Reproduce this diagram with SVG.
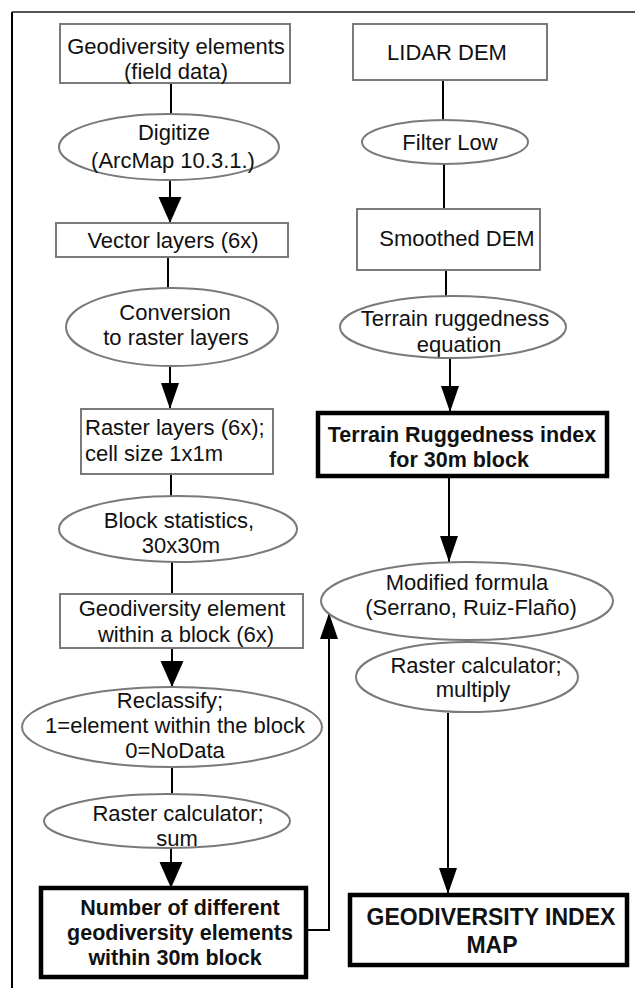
<svg xmlns="http://www.w3.org/2000/svg" width="635" height="988" viewBox="0 0 635 988">
<style>
.n{fill:#fff;stroke:#7a7a7a;stroke-width:2}
.b{fill:#fff;stroke:#000;stroke-width:4.5}
.t{font-family:"Liberation Sans",Arial,sans-serif;font-size:22px;fill:#111;text-anchor:middle}
.l{text-anchor:start}
.bt{font-family:"Liberation Sans",Arial,sans-serif;font-size:21.5px;font-weight:bold;fill:#111;text-anchor:middle}
.c{fill:none;stroke:#000;stroke-width:2}
.a{marker-end:url(#ah)}
.a2{marker-end:url(#ahb)}
</style>
<defs>
<marker id="ah" markerUnits="userSpaceOnUse" markerWidth="27" markerHeight="18" refX="26" refY="9" orient="auto"><path d="M0,0 L26,9 L0,18 Z" fill="#000"/></marker>
<marker id="ahb" markerUnits="userSpaceOnUse" markerWidth="28" markerHeight="24" refX="26" refY="11.5" orient="auto"><path d="M0,0 L26,11.5 L0,23 Z" fill="#000"/></marker>
</defs>
<rect width="635" height="988" fill="#fff"/>
<g id="frame">
<line x1="12" y1="12" x2="635" y2="12" stroke="#555" stroke-width="2"/>
<line x1="12" y1="12" x2="12" y2="988" stroke="#000" stroke-width="2"/>
</g>
<g id="connectors">
<line class="c" x1="171" y1="83" x2="171" y2="113"/>
<line class="c a2" x1="170" y1="180" x2="170" y2="223"/>
<line class="c" x1="168" y1="257" x2="168" y2="288"/>
<line class="c a" x1="170" y1="367" x2="170" y2="409"/>
<line class="c" x1="171" y1="474" x2="171" y2="497"/>
<line class="c" x1="172" y1="562" x2="172" y2="594"/>
<line class="c a2" x1="172" y1="648" x2="172" y2="687"/>
<line class="c" x1="172" y1="768" x2="172" y2="795"/>
<line class="c a2" x1="171" y1="848" x2="171" y2="888"/>
<line class="c" x1="443" y1="80" x2="443" y2="120"/>
<line class="c" x1="444" y1="163" x2="444" y2="209"/>
<line class="c" x1="446" y1="270" x2="446" y2="297"/>
<line class="c a" x1="450" y1="358" x2="450" y2="412"/>
<line class="c a" x1="449" y1="476" x2="449" y2="562"/>
<line class="c a" x1="448" y1="713" x2="448" y2="894"/>
<polyline class="c a" points="306,930 329,930 329,613"/>
</g>
<g id="geo-elements">
<rect class="n" x="60" y="24" width="230" height="59"/>
<text class="t" x="176" y="54">Geodiversity elements</text>
<text class="t" x="176" y="79">(field data)</text>
</g>
<g id="digitize">
<ellipse class="n" cx="169" cy="147" rx="110" ry="33"/>
<text class="t" x="174" y="140">Digitize</text>
<text class="t" x="173" y="168">(ArcMap 10.3.1.)</text>
</g>
<g id="vector-layers">
<rect class="n" x="56" y="223" width="232" height="34"/>
<text class="t" x="173" y="248">Vector layers (6x)</text>
</g>
<g id="conversion">
<ellipse class="n" cx="172" cy="327" rx="106" ry="39"/>
<text class="t" x="175" y="320">Conversion</text>
<text class="t" x="176" y="345">to raster layers</text>
</g>
<g id="raster-layers">
<rect class="n" x="81" y="409" width="192" height="65"/>
<text class="t l" x="85" y="435">Raster layers (6x);</text>
<text class="t l" x="85" y="461">cell size 1x1m</text>
</g>
<g id="block-stats">
<ellipse class="n" cx="178" cy="529" rx="119" ry="33"/>
<text class="t" x="179" y="528">Block statistics,</text>
<text class="t" x="181" y="553">30x30m</text>
</g>
<g id="geo-element-block">
<rect class="n" x="60" y="594" width="243" height="54"/>
<text class="t" x="182" y="616">Geodiversity element</text>
<text class="t" x="186" y="642">within a block (6x)</text>
</g>
<g id="reclassify">
<ellipse class="n" cx="172" cy="727" rx="150" ry="40"/>
<text class="t" x="170" y="708">Reclassify;</text>
<text class="t" x="175" y="733">1=element within the block</text>
<text class="t" x="175" y="758">0=NoData</text>
</g>
<g id="raster-calc-sum">
<ellipse class="n" cx="167" cy="821" rx="123" ry="27"/>
<text class="t" x="178" y="821">Raster calculator;</text>
<text class="t" x="177" y="846">sum</text>
</g>
<g id="number-elements">
<rect class="b" x="41" y="888" width="265" height="89"/>
<text class="bt" x="180" y="915">Number of different</text>
<text class="bt" x="180" y="940">geodiversity elements</text>
<text class="bt" x="175" y="965">within 30m block</text>
</g>
<g id="lidar">
<rect class="n" x="353" y="24" width="194" height="56"/>
<text class="t" x="447" y="60">LIDAR DEM</text>
</g>
<g id="filter-low">
<ellipse class="n" cx="445" cy="142" rx="83" ry="22"/>
<text class="t" x="450" y="150">Filter Low</text>
</g>
<g id="smoothed-dem">
<rect class="n" x="357" y="209" width="183" height="61"/>
<text class="t" x="457" y="246">Smoothed DEM</text>
</g>
<g id="tri-equation">
<ellipse class="n" cx="453" cy="327" rx="113" ry="31"/>
<text class="t" x="455" y="326">Terrain ruggedness</text>
<text class="t" x="459" y="352">equation</text>
</g>
<g id="tri-index">
<rect class="b" x="318" y="413" width="289" height="63"/>
<text class="bt" x="462" y="442">Terrain Ruggedness index</text>
<text class="bt" x="459" y="467">for 30m block</text>
</g>
<g id="modified-formula">
<ellipse class="n" cx="467" cy="601" rx="146" ry="39"/>
<text class="t" x="467" y="590">Modified formula</text>
<text class="t" x="471" y="615">(Serrano, Ruiz-Flaño)</text>
</g>
<g id="raster-calc-multiply">
<ellipse class="n" cx="467" cy="677" rx="111" ry="35"/>
<text class="t" x="476" y="673">Raster calculator;</text>
<text class="t" x="473" y="697">multiply</text>
</g>
<g id="geo-index-map">
<rect class="b" x="350" y="895" width="277" height="70" stroke-width="5"/>
<text class="bt" x="491" y="925" style="font-size:23px">GEODIVERSITY INDEX</text>
<text class="bt" x="492" y="953" style="font-size:23px">MAP</text>
</g>
</svg>
